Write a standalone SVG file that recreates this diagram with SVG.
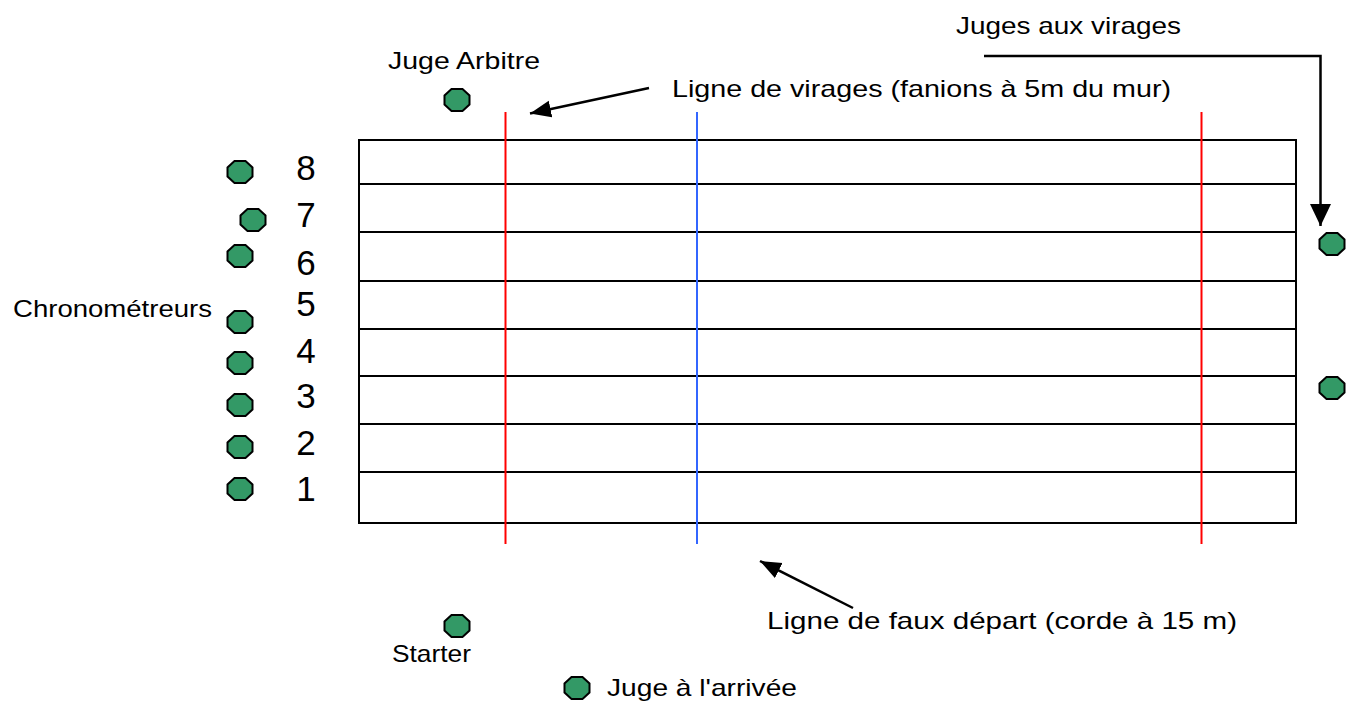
<svg xmlns="http://www.w3.org/2000/svg" xmlns:xlink="http://www.w3.org/1999/xlink" width="1355" height="701" viewBox="0 0 1355 701">
<style>
.lbl{font-family:"Liberation Sans",Arial,sans-serif;font-size:24px;fill:#000}
.num{font-family:"Liberation Sans",Arial,sans-serif;font-size:35px;fill:#000;text-anchor:middle}
.oct{fill:#339966;stroke:#000;stroke-width:2}
.lane{stroke:#000;stroke-width:2;fill:none}
.red{stroke:#ff0000;stroke-width:2}
.blue{stroke:#3366ff;stroke-width:2}
.conn{stroke:#000;stroke-width:2.5;fill:none}
</style>
<defs>
<polygon id="octa" points="-5.5,-11 5.5,-11 12.5,-4.6 12.5,4.6 5.5,11 -5.5,11 -12.5,4.6 -12.5,-4.6"/>
<marker id="ah" markerUnits="userSpaceOnUse" markerWidth="24" markerHeight="20" refX="21" refY="8.5" orient="auto">
<path d="M0,0 L21,8.5 L0,17 z" fill="#000"/>
</marker>
<marker id="ahv" markerUnits="userSpaceOnUse" markerWidth="24" markerHeight="24" refX="22" refY="10.5" orient="auto">
<path d="M0,0 L22,10.5 L0,21 z" fill="#000"/>
</marker>
</defs>
<rect width="1355" height="701" fill="#fff"/>

<g id="pool">
<rect class="lane" x="359" y="140" width="937" height="383"/>
<line class="lane" x1="359" y1="184" x2="1296" y2="184"/>
<line class="lane" x1="359" y1="232" x2="1296" y2="232"/>
<line class="lane" x1="359" y1="281" x2="1296" y2="281"/>
<line class="lane" x1="359" y1="329" x2="1296" y2="329"/>
<line class="lane" x1="359" y1="376" x2="1296" y2="376"/>
<line class="lane" x1="359" y1="424" x2="1296" y2="424"/>
<line class="lane" x1="359" y1="472" x2="1296" y2="472"/>
<line class="red" x1="505.5" y1="112" x2="505.5" y2="544"/>
<line class="blue" x1="697" y1="112" x2="697" y2="544"/>
<line class="red" x1="1201.5" y1="112" x2="1201.5" y2="544"/>
</g>

<g id="lane-numbers">
<text class="num" x="306" y="180">8</text>
<text class="num" x="306" y="227">7</text>
<text class="num" x="306" y="275">6</text>
<text class="num" x="306" y="316">5</text>
<text class="num" x="306" y="363">4</text>
<text class="num" x="306" y="408">3</text>
<text class="num" x="306" y="455">2</text>
<text class="num" x="306" y="501">1</text>
</g>

<g id="chronometreurs">
<text class="lbl" x="13" y="317" textLength="199" lengthAdjust="spacingAndGlyphs">Chronométreurs</text>
<use xlink:href="#octa" href="#octa" class="oct" x="240" y="172"/>
<use xlink:href="#octa" href="#octa" class="oct" x="253" y="220"/>
<use xlink:href="#octa" href="#octa" class="oct" x="240" y="256"/>
<use xlink:href="#octa" href="#octa" class="oct" x="240" y="322"/>
<use xlink:href="#octa" href="#octa" class="oct" x="240" y="363"/>
<use xlink:href="#octa" href="#octa" class="oct" x="240" y="405"/>
<use xlink:href="#octa" href="#octa" class="oct" x="240" y="447"/>
<use xlink:href="#octa" href="#octa" class="oct" x="240" y="489"/>
</g>

<g id="juge-arbitre">
<text class="lbl" x="388" y="69" textLength="152" lengthAdjust="spacingAndGlyphs">Juge Arbitre</text>
<use xlink:href="#octa" href="#octa" class="oct" x="457" y="100"/>
</g>

<g id="starter">
<use xlink:href="#octa" href="#octa" class="oct" x="457" y="626"/>
<text class="lbl" x="392" y="662" textLength="79" lengthAdjust="spacingAndGlyphs">Starter</text>
</g>

<g id="juge-arrivee">
<use xlink:href="#octa" href="#octa" class="oct" x="577" y="688"/>
<text class="lbl" x="607" y="696" textLength="190" lengthAdjust="spacingAndGlyphs">Juge à l'arrivée</text>
</g>

<g id="juges-virages">
<text class="lbl" x="956" y="34" textLength="225" lengthAdjust="spacingAndGlyphs">Juges aux virages</text>
<use xlink:href="#octa" href="#octa" class="oct" x="1332" y="244"/>
<use xlink:href="#octa" href="#octa" class="oct" x="1332" y="388"/>
</g>

<g id="ligne-virages-label">
<text class="lbl" x="672" y="97" textLength="499" lengthAdjust="spacingAndGlyphs">Ligne de virages (fanions à 5m du mur)</text>
</g>

<g id="ligne-faux-depart-label">
<text class="lbl" x="767" y="629" textLength="470" lengthAdjust="spacingAndGlyphs">Ligne de faux départ (corde à 15 m)</text>
</g>

<g id="connectors">
<line class="conn" x1="649" y1="88" x2="530" y2="113.5" marker-end="url(#ah)"/>
<line class="conn" x1="853" y1="608" x2="760" y2="561" marker-end="url(#ah)"/>
<polyline class="conn" points="984,56 1320.5,56 1320.5,226" marker-end="url(#ahv)"/>
</g>
</svg>
